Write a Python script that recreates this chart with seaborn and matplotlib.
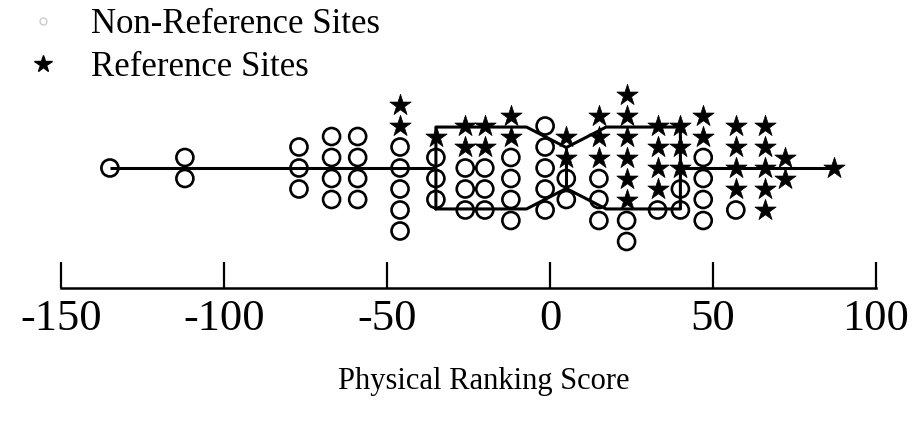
import numpy as np
import pandas as pd
import seaborn as sns
import matplotlib.pyplot as plt
from matplotlib.lines import Line2D

# columns of sites (score, non-reference count, reference count)
col_scores = [-135, -112, -77, -67, -59, -46, -35, -26, -20, -12, -1.5, 5, 15, 23.5, 33, 40, 47, 57, 66, 72, 87]
nonref_counts = [1, 2, 3, 4, 4, 5, 3, 3, 3, 4, 5, 2, 3, 2, 1, 2, 4, 1, 0, 0, 0]
ref_counts = [0, 0, 0, 0, 0, 2, 1, 2, 2, 2, 0, 2, 3, 6, 4, 3, 2, 4, 5, 2, 1]
x_ticks = [-150, -100, -50, 0, 50, 100]

# stack each column: reference stars on top, circles below, centred on the line
rows = []
for s, nn, nr in zip(col_scores, nonref_counts, ref_counts):
    n = nn + nr
    for i in range(n):
        site = 'Reference Sites' if i < nr else 'Non-Reference Sites'
        rows.append({'score': s, 'offset': (n - 1) / 2 - i, 'site': site})
df = pd.DataFrame(rows)

sns.set_theme(style='white')
plt.rcParams['font.family'] = ['Liberation Serif', 'DejaVu Serif']
plt.rcParams['text.color'] = 'black'

fig = plt.figure(figsize=(9.15, 4.3), dpi=100)
ax = fig.add_axes([61 / 915, (430 - 288) / 430, 815 / 915, 288 / 430])

sns.boxplot(x=df['score'], orient='h', notch=True, showcaps=False, showfliers=False,
            width=3.9, fill=False, color='black', linewidth=2.2, ax=ax)

nonref = df[df['site'] == 'Non-Reference Sites']
ref = df[df['site'] == 'Reference Sites']
sns.scatterplot(data=nonref, x='score', y='offset', marker='o', s=150,
                facecolor='none', edgecolor='black', linewidth=1.9, ax=ax, zorder=3)
sns.scatterplot(data=ref, x='score', y='offset', marker='*', s=260,
                color='black', edgecolor='black', linewidth=0.5, ax=ax, zorder=4)

ax.set_xlim(-150, 100)
ax.set_ylim(-120 / 21, 168 / 21)
ax.set_yticks([])
ax.set_ylabel('')
ax.set_xticks(x_ticks)
ax.set_xticklabels([str(t) for t in x_ticks], fontsize=32, color='black')
ax.tick_params(axis='x', bottom=True, direction='in', length=19, width=1.6, pad=8, colors='black')
for side in ['top', 'left', 'right']:
    ax.spines[side].set_visible(False)
ax.spines['bottom'].set_linewidth(1.8)
ax.spines['bottom'].set_color('black')
ax.set_xlabel('Physical Ranking Score', fontsize=22, color='black')
ax.xaxis.set_label_coords((484 - 61) / 815, -0.275)

handles = [Line2D([], [], linestyle='none', marker='o', markersize=5, markerfacecolor='none',
                  markeredgecolor='#cccccc', markeredgewidth=1),
           Line2D([], [], linestyle='none', marker='*', markersize=13, color='black')]
leg = fig.legend(handles, ['Non-Reference Sites', 'Reference Sites'], loc='upper left',
                 bbox_to_anchor=(8 / 915, 1.0 + 6 / 430), frameon=False, fontsize=25,
                 handlelength=1.2, handletextpad=0.8, labelspacing=0.3, borderaxespad=0.0)
for t in leg.get_texts():
    t.set_color('black')

fig.savefig('out.png', dpi=100)
